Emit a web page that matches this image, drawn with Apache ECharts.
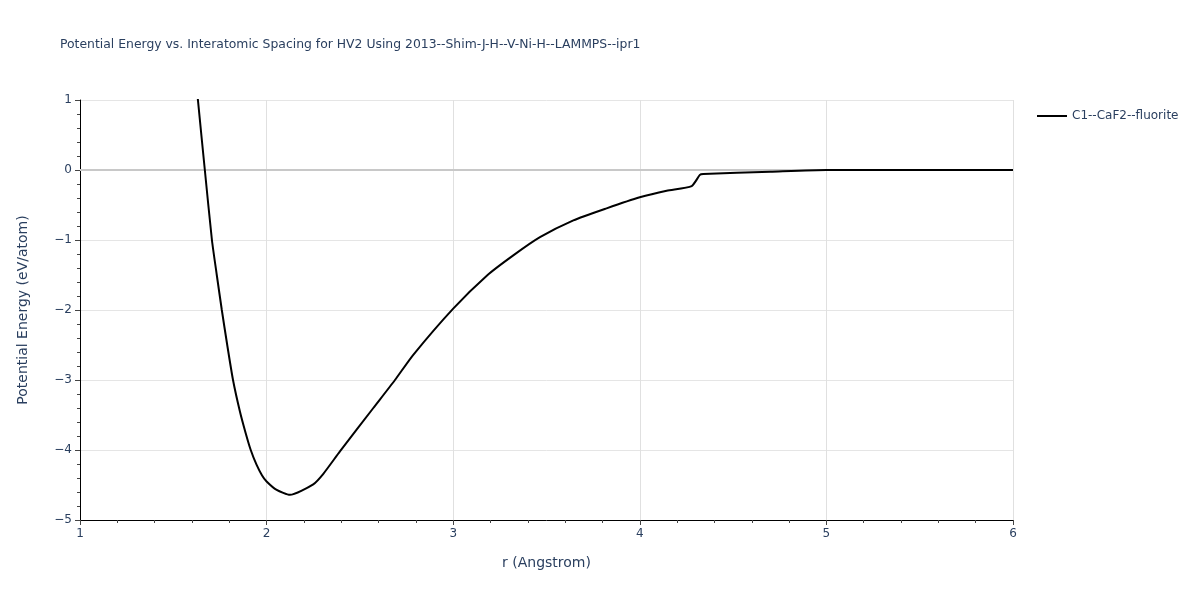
<!DOCTYPE html>
<html>
<head>
<meta charset="utf-8">
<script src="https://cdn.jsdelivr.net/npm/echarts@6/dist/echarts.min.js"></script>
<style>html,body{margin:0;padding:0;background:#fff;}#chart{width:1200px;height:600px;}</style>
</head>
<body>
<div id="chart"></div>
<script>
const titleText = 'Potential Energy vs. Interatomic Spacing for HV2 Using 2013--Shim-J-H--V-Ni-H--LAMMPS--ipr1';
const seriesName = 'C1--CaF2--fluorite';
const rValues = [1.600, 1.632, 1.669, 1.707, 1.733, 1.760, 1.789, 1.820, 1.857, 1.888, 1.915, 1.946, 1.975, 2.000, 2.054, 2.125, 2.250, 2.304, 2.393, 2.572, 2.688, 2.786, 3.000, 3.180, 3.322, 3.465, 3.644, 3.822, 4.000, 4.144, 4.278, 4.322, 4.340, 4.700, 5.000, 5.500, 6.000];
const energyValues = [1.95, 1.00, 0.00, -1.00, -1.50, -2.00, -2.50, -3.00, -3.45, -3.76, -4.00, -4.21, -4.36, -4.45, -4.57, -4.64, -4.49, -4.34, -4.02, -3.40, -3.00, -2.64, -1.98, -1.51, -1.22, -0.96, -0.72, -0.548, -0.39, -0.295, -0.229, -0.07, -0.057, -0.025, 0.00, 0.00, 0.00];
const xTicks = [1, 6, 1];
const yTicks = [-5, 1, 1];

const textColor = '#2a3f5f';
const font = '"DejaVu Sans", Verdana, sans-serif';
const fmt = v => String(v).replace('-', '\u2212');
const chart = echarts.init(document.getElementById('chart'));
chart.setOption({
  animation: false,
  backgroundColor: '#fff',
  title: {
    text: titleText, left: 60, top: 39, padding: 0,
    textStyle: { fontFamily: font, fontSize: 12.4, fontWeight: 'normal', color: textColor }
  },
  legend: {
    left: 1032, top: 105, orient: 'vertical',
    itemWidth: 30, itemHeight: 2, icon: 'rect',
    textStyle: { fontFamily: font, fontSize: 12, color: textColor },
    data: [{ name: seriesName, itemStyle: { color: '#000' } }]
  },
  grid: { left: 80, right: 187, top: 100, bottom: 80, containLabel: false },
  xAxis: {
    type: 'value', min: xTicks[0], max: xTicks[1], interval: xTicks[2],
    name: 'r (Angstrom)', nameLocation: 'middle', nameGap: 36,
    nameTextStyle: { fontFamily: font, fontSize: 14, color: textColor },
    axisLine: { show: true, onZero: false, lineStyle: { color: '#000', width: 1 } },
    axisTick: { show: true, length: 5, lineStyle: { color: '#444' } },
    minorTick: { show: true, splitNumber: 5, length: 3, lineStyle: { color: '#444' } },
    axisLabel: { color: textColor, fontSize: 12, fontFamily: font, margin: 8, formatter: fmt },
    splitLine: { show: true, lineStyle: { color: '#e0e0e0', width: 1 } }
  },
  yAxis: {
    type: 'value', min: yTicks[0], max: yTicks[1], interval: yTicks[2],
    name: 'Potential Energy (eV/atom)', nameLocation: 'middle', nameGap: 50,
    nameTextStyle: { fontFamily: font, fontSize: 14, color: textColor },
    axisLine: { show: true, onZero: false, lineStyle: { color: '#000', width: 1 } },
    axisTick: { show: true, length: 5, lineStyle: { color: '#444' } },
    minorTick: { show: true, splitNumber: 5, length: 3, lineStyle: { color: '#444' } },
    axisLabel: { color: textColor, fontSize: 12, fontFamily: font, margin: 8, formatter: fmt },
    splitLine: { show: true, lineStyle: { color: '#e5e5e5', width: 1 } }
  },
  series: [{
    name: seriesName, type: 'line', showSymbol: false, clip: true,
    smooth: 0.2,
    lineStyle: { color: '#000', width: 2 }, itemStyle: { color: '#000' },
    data: rValues.map((r, i) => [r, energyValues[i]]),
    markLine: {
      silent: true, symbol: 'none', label: { show: false },
      lineStyle: { color: '#c8c8c8', width: 2, type: 'solid' },
      data: [{ yAxis: 0 }], z: 1
    },
    z: 3
  }]
});
</script>
</body>
</html>
